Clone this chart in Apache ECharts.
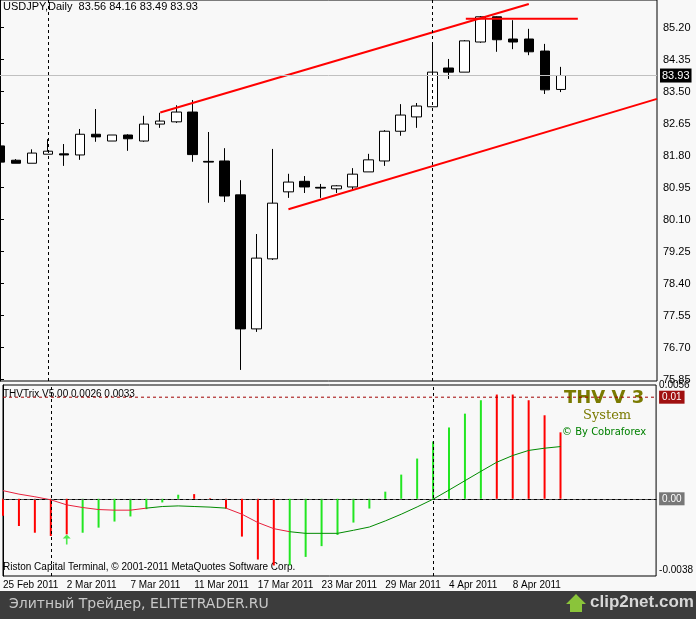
<!DOCTYPE html>
<html><head><meta charset="utf-8">
<script src="https://cdn.jsdelivr.net/npm/echarts@6/dist/echarts.min.js"></script>
<style>html,body{margin:0;padding:0;background:#f8f8f8}#c{width:696px;height:619px}</style>
</head><body><div id="c"></div>
<script>
const dates=['25 Feb 2011','27 Feb 2011','28 Feb 2011','1 Mar 2011','2 Mar 2011','3 Mar 2011','4 Mar 2011','6 Mar 2011','7 Mar 2011','8 Mar 2011','9 Mar 2011','10 Mar 2011','11 Mar 2011','14 Mar 2011','15 Mar 2011','16 Mar 2011','17 Mar 2011','18 Mar 2011','21 Mar 2011','22 Mar 2011','23 Mar 2011','24 Mar 2011','25 Mar 2011','28 Mar 2011','29 Mar 2011','30 Mar 2011','31 Mar 2011','1 Apr 2011','4 Apr 2011','5 Apr 2011','6 Apr 2011','7 Apr 2011','8 Apr 2011','11 Apr 2011','12 Apr 2011','13 Apr 2011','','','','','',''];
const opens =[82.06,81.68,81.60,81.84,81.85,81.82,82.37,82.19,82.35,82.19,82.64,82.70,82.96,81.65,81.66,80.76,77.20,79.06,80.84,81.12,80.96,80.92,80.97,81.37,81.66,82.45,82.83,83.10,84.13,84.02,84.82,85.49,84.90,84.90,84.58,83.56];
const closes=[81.63,81.60,81.87,81.92,81.82,82.37,82.30,82.35,82.25,82.64,82.72,82.96,81.83,81.63,80.73,77.20,79.08,80.54,81.10,80.97,80.94,81.00,81.31,81.69,82.45,82.88,83.12,84.02,84.02,84.85,85.49,84.88,84.82,84.56,83.55,83.93];
const lows  =[81.63,81.60,81.60,81.84,81.53,81.69,82.17,82.19,81.93,82.17,82.54,82.67,81.64,80.55,80.57,76.11,77.12,79.03,80.68,80.81,80.68,80.81,80.90,81.37,81.53,82.33,82.54,83.10,83.84,84.02,84.80,84.56,84.63,84.47,83.44,83.49];
const highs =[82.06,81.71,81.97,82.24,82.11,82.51,83.04,82.35,82.37,82.86,82.94,83.14,83.28,82.43,82.00,81.15,79.72,81.98,81.32,81.26,81.05,81.02,81.47,81.85,82.48,83.17,83.20,84.77,84.37,84.87,85.51,85.50,85.40,85.17,84.77,84.16];
const priceTicks=[75.85,76.70,77.55,78.40,79.25,80.10,80.95,81.80,82.65,83.50,84.35,85.20];
const hist=[-0.00084,-0.00134,-0.00167,-0.00183,-0.00175,-0.00167,-0.00142,-0.00112,-0.00087,-0.00051,-0.00018,0.0002,0.00023,0.00003,-0.00048,-0.00186,-0.00299,-0.00328,-0.00328,-0.00286,-0.00233,-0.00178,-0.00117,-0.00048,0.00035,0.00119,0.00198,0.00282,0.00351,0.00419,0.00485,0.00513,0.00513,0.00485,0.00411,0.00327];
const histCol=['r','r','r','r','r','g','g','g','g','g','g','g','r','r','r','r','r','r','g','g','g','g','g','g','g','g','g','g','g','g','g','r','r','r','r','r'];
const signal=[0.0004,0.00023,0.0001,-0.00005,-0.0003,-0.00043,-0.00053,-0.00056,-0.00056,-0.00046,-0.00038,-0.00035,-0.00038,-0.00041,-0.00046,-0.00076,-0.00117,-0.00147,-0.00162,-0.0017,-0.0017,-0.0017,-0.00155,-0.00139,-0.00109,-0.00076,-0.0004,-0.00002,0.00043,0.00089,0.00135,0.0018,0.00213,0.00238,0.00249,0.00257];
const sigCol=['r','r','r','r','r','r','r','r','r','g','g','g','g','g','r','r','r','r','g','g','g','g','g','g','g','g','g','g','g','g','g','g','g','g','g','g'];
const upperLine=[[10,82.95],[33,85.83]];
const lowerLine=[[18,80.38],[41,83.31]];
const resistLine=[[29.07,85.44],[36.06,85.44]];
const arrowAt=[[4,-0.002]];
const lastPrice=83.93, levelHi=0.005;

const RED='#ff0000',GRN='#22e622',SRED='#e8203c',SGRN='#008a00';
const chart=echarts.init(document.getElementById('c'));
const ohlc=opens.map((o,i)=>[o,closes[i],lows[i],highs[i]]);
const redSig=signal.map((v,i)=>(sigCol[i]==='r'||(i>0&&sigCol[i-1]==='r'))?v:null);
const grnSig=signal.map((v,i)=>(sigCol[i]==='g'||(i>0&&sigCol[i-1]==='g'))?v:null);
const font='"Liberation Sans", Arial, sans-serif';
const vDash={symbol:'none',silent:true,lineStyle:{color:'#000',type:[3,3],width:1},label:{show:false},data:[{xAxis:3},{xAxis:27}]};
chart.setOption({
 animation:false,backgroundColor:'#f8f8f8',
 grid:[{left:0,width:657,top:0,height:381,show:true,borderColor:'#000',borderWidth:1},
       {left:0,width:657,top:385,height:191,show:true,borderColor:'#000',borderWidth:1}],
 xAxis:[
  {type:'category',gridIndex:0,data:dates,show:false,boundaryGap:false},
  {type:'category',gridIndex:1,data:dates,boundaryGap:false,axisLine:{lineStyle:{color:'#000'}},
   axisTick:{show:false},
   axisLabel:{interval:3,align:'left',margin:4,color:'#000',fontSize:10,fontFamily:font}},
  {type:'value',gridIndex:0,min:0,max:41,show:false},
  {type:'value',gridIndex:1,min:0,max:41,show:false}
 ],
 yAxis:[
  {type:'value',gridIndex:0,position:'right',min:75.816,max:85.936,splitLine:{show:false},
   axisLine:{show:true,lineStyle:{color:'#000'}},axisTick:{show:true,customValues:priceTicks,length:4,lineStyle:{color:'#000'}},
   axisLabel:{customValues:priceTicks,formatter:v=>v.toFixed(2),color:'#000',fontSize:11,fontFamily:font,margin:6}},
  {type:'value',gridIndex:1,position:'right',min:-0.0038,max:0.0056,splitLine:{show:false},
   axisLine:{show:true,lineStyle:{color:'#000'}},axisTick:{show:false},
   axisLabel:{customValues:[-0.0035,0.0056],formatter:v=>v<0?'-0.0038':'0.0056',color:'#000',fontSize:10,fontFamily:font,margin:3}}
 ],
 series:[
  {type:'candlestick',xAxisIndex:0,yAxisIndex:0,data:ohlc,barWidth:10,
   itemStyle:{color:'#fff',color0:'#000',borderColor:'#000',borderColor0:'#000',borderWidth:1},
   markLine:{symbol:'none',silent:true,lineStyle:{color:'#c0c0c0',type:'solid',width:1},
    label:{position:'end',formatter:'83.93',color:'#fff',backgroundColor:'#000',padding:[2,2,1,2],fontSize:11,fontFamily:font,distance:3},
    data:[{yAxis:lastPrice}]}},
  {type:'line',xAxisIndex:0,yAxisIndex:0,data:[[3,80]],symbol:'none',lineStyle:{opacity:0},markLine:vDash},
  {type:'line',xAxisIndex:2,yAxisIndex:0,data:upperLine,symbol:'none',lineStyle:{color:RED,width:2}},
  {type:'line',xAxisIndex:2,yAxisIndex:0,data:lowerLine,symbol:'none',lineStyle:{color:RED,width:2}},
  {type:'line',xAxisIndex:2,yAxisIndex:0,data:resistLine,symbol:'none',lineStyle:{color:RED,width:2}},
  {type:'bar',xAxisIndex:1,yAxisIndex:1,barWidth:2,
   data:hist.map((v,i)=>({value:v,itemStyle:{color:histCol[i]==='r'?RED:GRN}})),
   markLine:{symbol:'none',silent:true,lineStyle:{color:'#555',type:[3,3],width:1},
    label:{position:'end',formatter:'0.00',color:'#fff',backgroundColor:'#777',padding:[2,3,1,3],fontSize:10,fontFamily:font,distance:3},
    data:[{yAxis:0}]}},
  {type:'line',xAxisIndex:3,yAxisIndex:1,data:[[0,levelHi],[41,levelHi]],symbol:'none',silent:true,
   lineStyle:{color:'#a00000',type:[3,3],width:1},
   endLabel:{show:true,formatter:'0.01',color:'#fff',backgroundColor:'#a01010',padding:[2,3,1,3],fontSize:10,fontFamily:font,distance:3}},
  {type:'line',xAxisIndex:1,yAxisIndex:1,data:[[3,0]],symbol:'none',lineStyle:{opacity:0},markLine:vDash},
  {type:'line',xAxisIndex:1,yAxisIndex:1,data:redSig,symbol:'none',connectNulls:false,lineStyle:{color:SRED,width:1}},
  {type:'line',xAxisIndex:1,yAxisIndex:1,data:grnSig,symbol:'none',connectNulls:false,lineStyle:{color:SGRN,width:1}},
  {type:'scatter',xAxisIndex:1,yAxisIndex:1,data:arrowAt,symbol:'path://M5,0 L10,5 L6,5 L6,12 L4,12 L4,5 L0,5 Z',symbolSize:[8,10],itemStyle:{color:GRN}}
 ],
 graphic:[
  {type:'text',left:3,top:1,style:{text:'USDJPY,Daily  83.56 84.16 83.49 83.93',font:'11px '+font,fill:'#000'}},
  {type:'text',left:3,top:389,style:{text:'THVTrix V5.00 0.0026 0.0033',font:'10px '+font,fill:'#000'}},
  {type:'text',left:564,top:389,style:{text:'THV V 3',font:'bold 18px "DejaVu Sans", sans-serif',fill:'#7a7a00'}},
  {type:'text',left:583,top:409,style:{text:'System',font:'13px "DejaVu Serif", serif',fill:'#7a7a00'}},
  {type:'text',left:562,top:427,style:{text:'© By Cobraforex',font:'10px "DejaVu Sans", sans-serif',fill:'#008000'}},
  {type:'text',left:3,top:562,style:{text:'Riston Capital Terminal, © 2001-2011 MetaQuotes Software Corp.',font:'10px '+font,fill:'#000'}},
  {type:'rect',left:0,top:591,shape:{width:696,height:28},style:{fill:'#3c3c3c'}},
  {type:'text',left:9,top:597,style:{text:'Элитный Трейдер, ELITETRADER.RU',font:'14px "DejaVu Sans", sans-serif',fill:'#c8c8c8'}},
  {type:'text',left:590,top:594,style:{text:'clip2net.com',font:'bold 17px "Liberation Sans", sans-serif',fill:'#d8d8d8'}},
  {type:'polygon',shape:{points:[[570,612],[570,604],[566,604],[576,594],[586,604],[582,604],[582,612]]},style:{fill:'#8ac43a'}}
 ]
});
</script></body></html>
